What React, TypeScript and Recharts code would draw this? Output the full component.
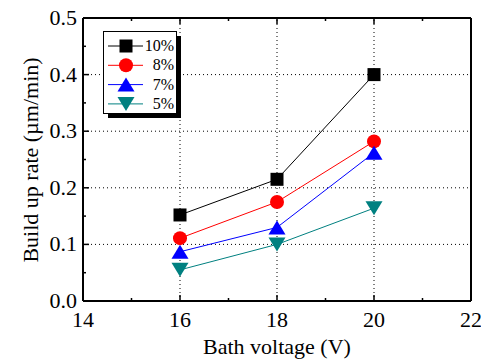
import React from 'react'
import {
  Customized,
  Line,
  LineChart,
  ReferenceLine,
  XAxis,
  YAxis,
} from 'recharts'

const voltages = [16, 18, 20]
const rate10 = [0.152, 0.215, 0.4]
const rate8 = [0.111, 0.175, 0.282]
const rate7 = [0.087, 0.13, 0.262]
const rate5 = [0.055, 0.1, 0.164]

const xTicks = [14, 15, 16, 17, 18, 19, 20, 21, 22]
const yTicks = [0, 0.05, 0.1, 0.15, 0.2, 0.25, 0.3, 0.35, 0.4, 0.45, 0.5]
const xGrid = [16, 18, 20]
const yGrid = [0.1, 0.2, 0.3, 0.4]

const FONT = 'Liberation Serif, DejaVu Serif, serif'
const txt = { fontFamily: FONT }

type SeriesDef = { key: string; name: string; color: string; shape: string }
const series: SeriesDef[] = [
  { key: 'p10', name: '10%', color: '#000000', shape: 'square' },
  { key: 'p8', name: '8%', color: '#ff0000', shape: 'circle' },
  { key: 'p7', name: '7%', color: '#0000ff', shape: 'up' },
  { key: 'p5', name: '5%', color: '#008080', shape: 'down' },
]

const data = voltages.map((v, i) => ({
  v,
  p10: rate10[i],
  p8: rate8[i],
  p7: rate7[i],
  p5: rate5[i],
}))

const Marker = ({ cx, cy, shape, color }: any) => {
  if (shape === 'square')
    return <rect x={cx - 6.5} y={cy - 6.5} width={13} height={13} fill={color} />
  if (shape === 'circle') return <circle cx={cx} cy={cy} r={7} fill={color} />
  if (shape === 'up')
    return (
      <polygon
        points={`${cx},${cy - 7} ${cx - 8.5},${cy + 7} ${cx + 8.5},${cy + 7}`}
        fill={color}
      />
    )
  return (
    <polygon
      points={`${cx},${cy + 7} ${cx - 8.5},${cy - 7} ${cx + 8.5},${cy - 7}`}
      fill={color}
    />
  )
}

const isMajorY = (v: number) => Math.round(v * 100) % 10 === 0

const BottomTick = ({ x, y, payload }: any) => {
  const major = payload.value % 2 === 0
  return (
    <g>
      <line x1={x} y1={y} x2={x} y2={y - (major ? 6 : 3)} stroke="#000" strokeWidth={1.5} />
      {major && (
        <text x={x} y={y + 26} textAnchor="middle" fontSize={22} style={txt} fill="#000">
          {payload.value}
        </text>
      )}
    </g>
  )
}

const TopTick = ({ x, y, payload }: any) => {
  const major = payload.value % 2 === 0
  return <line x1={x} y1={y} x2={x} y2={y + (major ? 6 : 3)} stroke="#000" strokeWidth={1.5} />
}

const LeftTick = ({ x, y, payload }: any) => {
  const major = isMajorY(payload.value)
  return (
    <g>
      <line x1={x} y1={y} x2={x + (major ? 6 : 3)} y2={y} stroke="#000" strokeWidth={1.5} />
      {major && (
        <text x={x - 6} y={y + 7} textAnchor="end" fontSize={22} style={txt} fill="#000">
          {payload.value.toFixed(1)}
        </text>
      )}
    </g>
  )
}

const RightTick = ({ x, y, payload }: any) => {
  const major = isMajorY(payload.value)
  return <line x1={x} y1={y} x2={x - (major ? 6 : 3)} y2={y} stroke="#000" strokeWidth={1.5} />
}

const AxisTitles = () => (
  <g fontSize={22} fill="#000" style={txt}>
    <text x={277} y={354} textAnchor="middle" style={txt}>
      Bath voltage (V)
    </text>
    <text x={38} y={160} textAnchor="middle" transform="rotate(-90 38 160)" style={txt}>
      Build up rate (µm/min)
    </text>
  </g>
)

const LegendBox = () => (
  <div style={{ position: 'absolute', left: 103, top: 31 }}>
    <div
      style={{
        position: 'absolute',
        left: 5,
        top: 5,
        width: 73,
        height: 82,
        background: '#000',
      }}
    />
    <svg
      width={74}
      height={83}
      style={{ position: 'absolute', left: 0, top: 0, background: '#fff', border: '1px solid #000', boxSizing: 'border-box' }}
    >
      {series.map((s, i) => {
        const cy = 14 + i * 19.3
        return (
          <g key={s.key}>
            <line x1={4} x2={39} y1={cy} y2={cy} stroke={s.color} strokeWidth={1} />
            <Marker cx={22} cy={cy} shape={s.shape} color={s.color} />
            <text x={70} y={cy + 5} textAnchor="end" fontSize={16} style={txt} fill="#000">
              {s.name}
            </text>
          </g>
        )
      })}
    </svg>
  </div>
)

export default function App() {
  return (
    <div style={{ position: 'absolute', left: 0, top: 0, width: 481, height: 360, background: '#fff', fontFamily: FONT }}>
      <LineChart
        width={481}
        height={360}
        data={data}
        margin={{ top: 17, right: 9, bottom: 58, left: 82 }}
      >
        <XAxis
          xAxisId="b"
          type="number"
          dataKey="v"
          domain={[14, 22]}
          ticks={xTicks}
          interval={0}
          height={1}
          tickSize={0}
          tickMargin={0}
          tickLine={false}
          tick={<BottomTick />}
          axisLine={{ stroke: '#000', strokeWidth: 2 }}
        />
        <XAxis
          xAxisId="t"
          orientation="top"
          type="number"
          dataKey="v"
          domain={[14, 22]}
          ticks={xTicks}
          interval={0}
          height={1}
          tickSize={0}
          tickMargin={0}
          tickLine={false}
          tick={<TopTick />}
          axisLine={{ stroke: '#000', strokeWidth: 2 }}
        />
        <YAxis
          yAxisId="l"
          type="number"
          domain={[0, 0.5]}
          ticks={yTicks}
          interval={0}
          width={1}
          tickSize={0}
          tickMargin={0}
          tickLine={false}
          tick={<LeftTick />}
          axisLine={{ stroke: '#000', strokeWidth: 2 }}
        />
        <YAxis
          yAxisId="r"
          orientation="right"
          type="number"
          domain={[0, 0.5]}
          ticks={yTicks}
          interval={0}
          width={1}
          tickSize={0}
          tickMargin={0}
          tickLine={false}
          tick={<RightTick />}
          axisLine={{ stroke: '#000', strokeWidth: 2 }}
        />
        {xGrid.map((g) => (
          <ReferenceLine
            key={'x' + g}
            x={g}
            xAxisId="b"
            yAxisId="l"
            stroke="#000"
            strokeWidth={1}
            strokeDasharray="1 3"
          />
        ))}
        {yGrid.map((g) => (
          <ReferenceLine
            key={'y' + g}
            y={g}
            xAxisId="b"
            yAxisId="l"
            stroke="#000"
            strokeWidth={1}
            strokeDasharray="1 3"
          />
        ))}
        {series.map((s) => (
          <Line
            key={s.key}
            xAxisId="b"
            yAxisId="l"
            dataKey={s.key}
            name={s.name}
            stroke={s.color}
            strokeWidth={1}
            isAnimationActive={false}
            activeDot={false}
            dot={(p: any) => (
              <Marker key={s.key + p.index} cx={p.cx} cy={p.cy} shape={s.shape} color={s.color} />
            )}
          />
        ))}
        <Customized component={AxisTitles} />
      </LineChart>
      <LegendBox />
    </div>
  )
}
